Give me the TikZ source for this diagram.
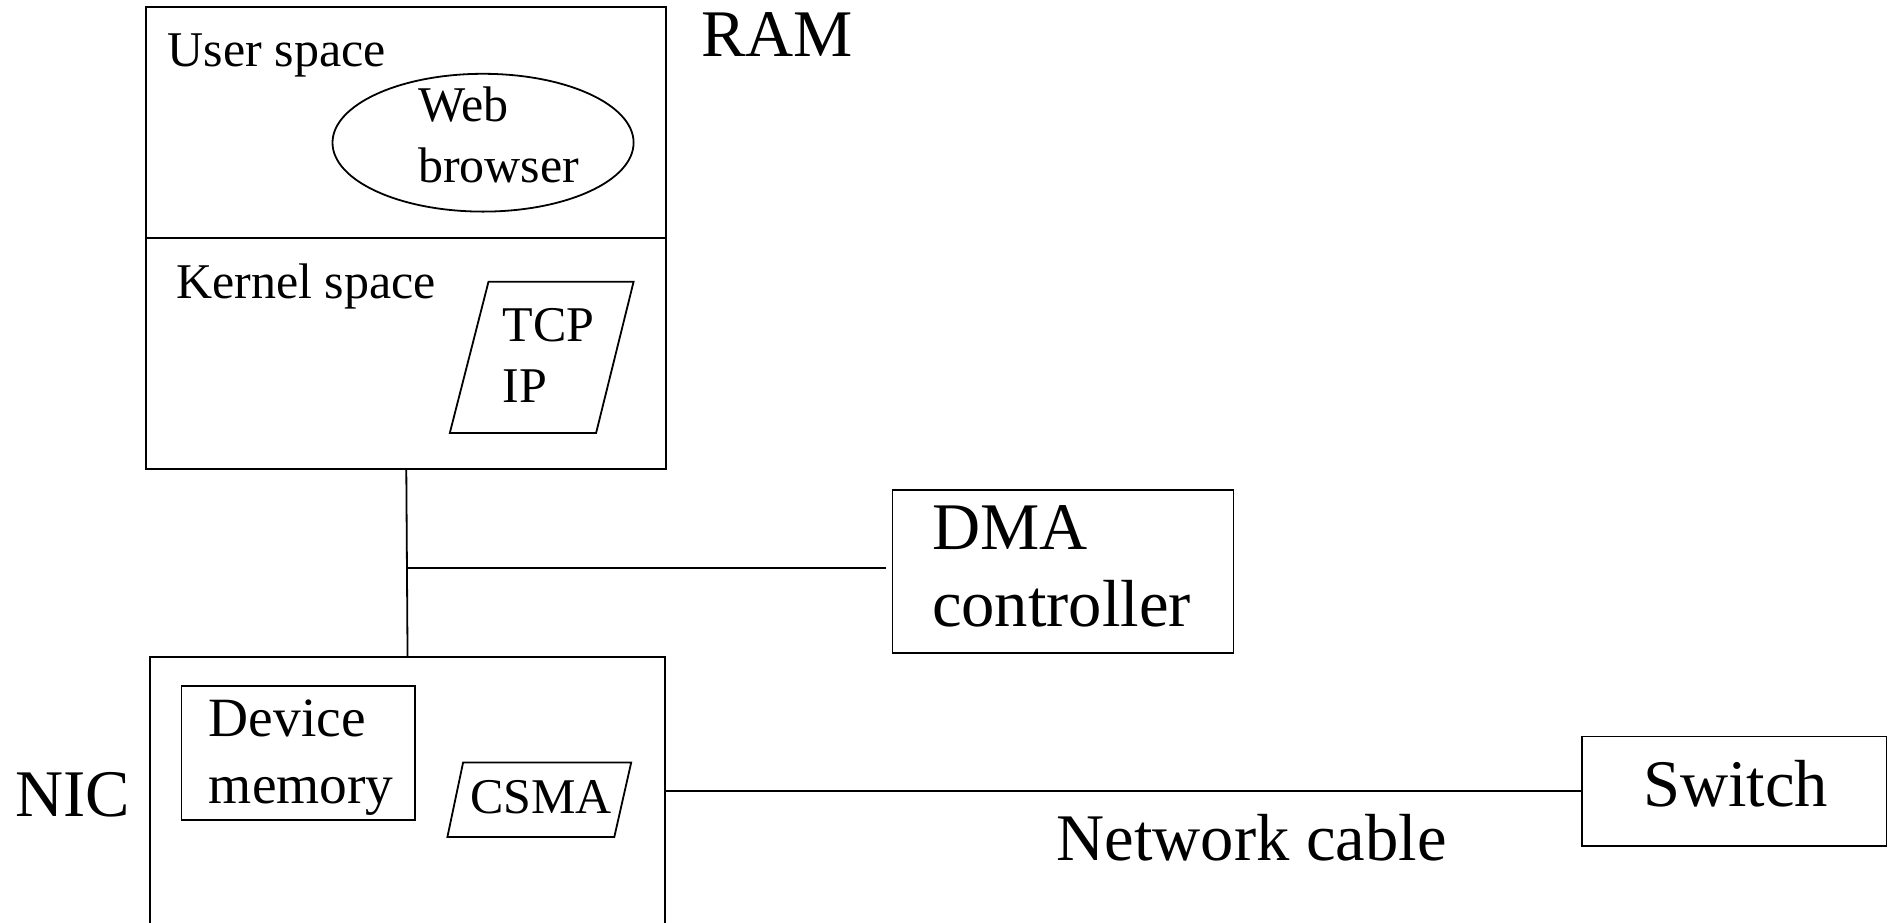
\documentclass[tikz,border=0pt]{standalone}
\usepackage{fontspec}
\setmainfont{Liberation Serif}
\usetikzlibrary{shapes.geometric}
\begin{document}
\begin{tikzpicture}[x=0.5pt,y=-0.5pt,line width=0.9pt,
  box/.style={draw,rectangle,inner sep=0pt},
  txt/.style={anchor=base west,inner sep=0pt},
  fa/.style={font=\fontsize{25}{30}\selectfont},
  fb/.style={font=\fontsize{27.7}{33}\selectfont},
  fc/.style={font=\fontsize{33.3}{40}\selectfont}]
\useasboundingbox (0,0) rectangle (1896,922);
% RAM
\node[box,minimum width=260pt,minimum height=230.95pt] (ram) at (406.3,238.25) {};
\draw (ram.west) -- (ram.east);
\node[txt,fc] (ramlbl) at (700.1,56.7) {RAM};
\node[txt,fa] (user) at (166.9,66.7) {User space};
\node[draw,ellipse,inner sep=0pt,minimum width=150.55pt,minimum height=68.9pt] (web) at (483.05,142.7) {};
\node[txt,fa] (web1) at (417.2,121.7) {Web};
\node[txt,fa] (web2) at (417.2,182.7) {browser};
\node[txt,fa] (kernel) at (175.3,298.3) {Kernel space};
\coordinate (t1) at (488.5,281.7);
\coordinate (t2) at (633.6,281.7);
\coordinate (t3) at (596.1,433);
\coordinate (t4) at (449.8,433);
\draw (t1) -- (t2) -- (t3) -- (t4) -- cycle;
\node[txt,fa] (tcp) at (501.8,341.7) {TCP};
\node[txt,fa] (ip) at (501.8,402.7) {IP};
% DMA
\node[box,minimum width=170.5pt,minimum height=81.65pt] (dma) at (1062.9,571.35) {};
\node[txt,fc] (dma1) at (931.1,549.3) {DMA};
\node[txt,fc] (dma2) at (931.1,626.7) {controller};
% NIC
\node[inner sep=0pt,minimum width=256.35pt,minimum height=132pt] (nic) at (407.55,790) {};
\draw (nic.south west) |- (nic.north east) -- (nic.south east);
\node[txt,fc] (niclbl) at (14.5,816) {NIC};
\node[box,minimum width=116.7pt,minimum height=67.25pt] (devmem) at (298.1,753.05) {};
\node[txt,fb] (dev1) at (208,736.7) {Device};
\node[txt,fb] (dev2) at (208,803.3) {memory};
\coordinate (c1) at (463.1,762.5);
\coordinate (c2) at (631.2,762.5);
\coordinate (c3) at (614.3,837);
\coordinate (c4) at (447.4,837);
\draw (c1) -- (c2) -- (c3) -- (c4) -- cycle;
\node[txt,fa] (csma) at (469.2,813.3) {CSMA};
% Switch
\node[box,minimum width=152.4pt,minimum height=54.75pt] (switch) at (1734,791.25) {};
\node[txt,fc] (swlbl) at (1642.1,806) {Switch};
\node[txt,fc] (cable) at (1055.6,860) {Network cable};
% connectors
\draw (ram.south) -- (nic.north);
\coordinate (junc) at (407,568.3);
\draw (junc) -- ([xshift=-3pt]dma.west |- junc);
\draw (nic.east |- switch.west) -- (switch.west);
\end{tikzpicture}
\end{document}
